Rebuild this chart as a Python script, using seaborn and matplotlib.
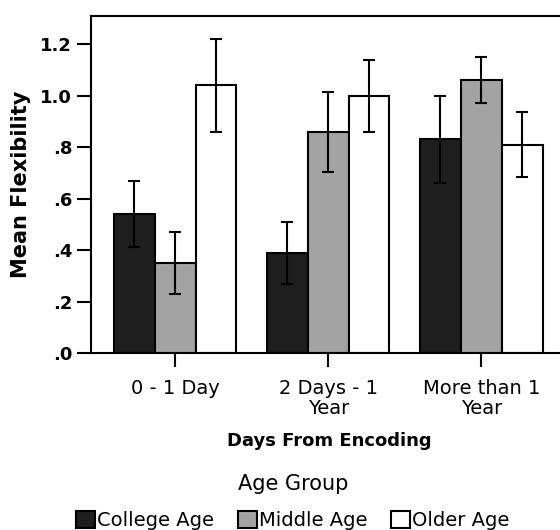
import numpy as np
import pandas as pd
import matplotlib
matplotlib.use('Agg')
import matplotlib.pyplot as plt
import seaborn as sns

# values
periods = ['0 - 1 Day', '2 Days - 1\nYear', 'More than 1\nYear']
groups = ['College Age', 'Middle Age', 'Older Age']
college = [0.54, 0.39, 0.83]
middle = [0.35, 0.86, 1.06]
older = [1.04, 1.00, 0.81]
college_err = [0.13, 0.12, 0.17]
middle_err = [0.12, 0.155, 0.09]
older_err = [0.18, 0.14, 0.125]
colors = ['#1e1e1e', '#a3a3a3', '#ffffff']
yticks = [0, 0.2, 0.4, 0.6, 0.8, 1.0, 1.2]
ytick_labels = ['.0', '.2', '.4', '.6', '.8', '1.0', '1.2']

df = pd.DataFrame({
    'Days From Encoding': periods * 3,
    'Age Group': np.repeat(groups, len(periods)),
    'Mean Flexibility': college + middle + older,
})

sns.set_style('white')
plt.rcParams['font.family'] = ['DejaVu Sans']
plt.rcParams['text.color'] = 'black'
plt.rcParams['axes.labelcolor'] = 'black'

fig = plt.figure(figsize=(5.6, 5.3), dpi=100)
ax = fig.add_axes([0.1625, 0.334, 0.85, 0.636])

sns.barplot(data=df, x='Days From Encoding', y='Mean Flexibility', hue='Age Group',
            palette=colors, edgecolor='black', linewidth=1.5, errorbar=None,
            width=0.8, saturation=1, ax=ax)

# error bars on top of each bar
for cont, err in zip(ax.containers, [college_err, middle_err, older_err]):
    xs = [p.get_x() + p.get_width() / 2 for p in cont]
    ys = [p.get_height() for p in cont]
    ax.errorbar(xs, ys, yerr=err, fmt='none', ecolor='black',
                elinewidth=1.5, capsize=4, capthick=1.5)

ax.set_ylim(0, 1.31)
ax.set_xlim(-0.55, 2.56)
ax.set_yticks(yticks)
ax.set_yticklabels(ytick_labels, fontsize=13, fontweight='bold')
ax.set_xticks(range(len(periods)))
ax.set_xticklabels(periods, fontsize=14, linespacing=1.05)
ax.tick_params(axis='both', direction='out', length=10, width=1.5, colors='black',
               bottom=True, left=True)
ax.tick_params(axis='x', pad=9)
ax.set_ylabel('Mean Flexibility', fontsize=15, fontweight='bold', labelpad=7)
ax.set_xlabel('Days From Encoding', fontsize=13, fontweight='bold', labelpad=10)
for s in ax.spines.values():
    s.set_linewidth(1.5)
    s.set_color('black')

sns.move_legend(ax, 'upper center', bbox_to_anchor=(0.424, -0.36), ncol=3,
                frameon=False, title='Age Group', fontsize=14, title_fontsize=15,
                handlelength=1.0, handleheight=1.0, handletextpad=0.1,
                columnspacing=1.2, borderaxespad=0, borderpad=0)
ax.get_legend()._legend_box.sep = 12

plt.savefig('out.png', dpi=100)
